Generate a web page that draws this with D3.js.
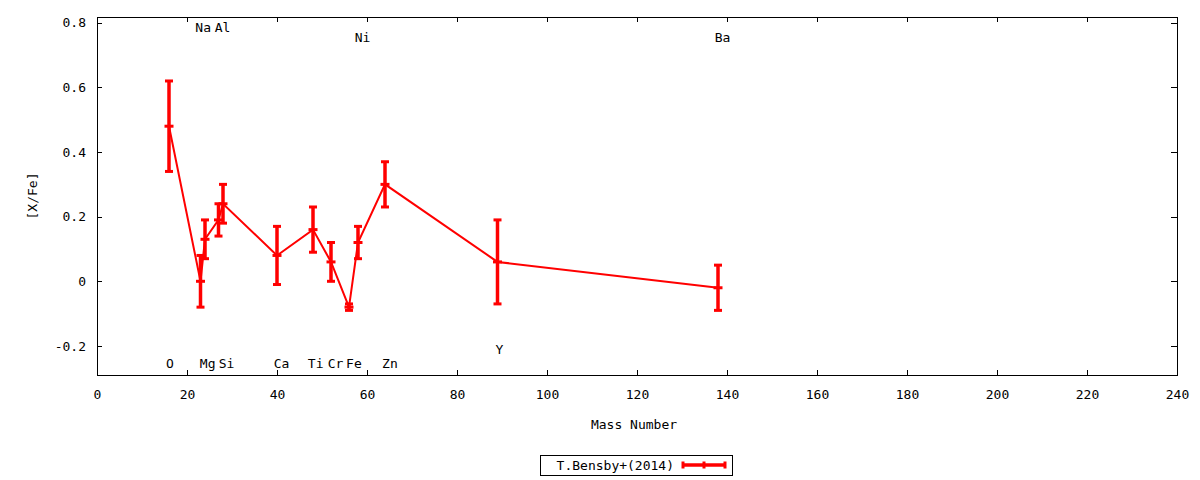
<!DOCTYPE html>
<html>
<head>
<meta charset="utf-8">
<script src="https://cdn.jsdelivr.net/npm/d3@7"></script>
<style>
  body { margin: 0; background: #fff; }
  svg { display: block; }
  text { font-family: "DejaVu Sans Mono", monospace; font-size: 13px; fill: #000; }
</style>
</head>
<body>
<script>
// abundance pattern, one entry per element
const massNumber = [16, 23, 24, 27, 28, 40, 48, 52, 56, 58, 64, 89, 138];
const xFe        = [0.48, 0.00, 0.13, 0.19, 0.24, 0.08, 0.16, 0.06, -0.08, 0.12, 0.30, 0.06, -0.02];
const xFeErr     = [0.14, 0.08, 0.06, 0.05, 0.06, 0.09, 0.07, 0.06, 0.01, 0.05, 0.07, 0.13, 0.07];

// element name labels (x in mass number, y in [X/Fe])
const labelNames = ["O", "Na", "Mg", "Al", "Si", "Ca", "Ti", "Cr", "Fe", "Ni", "Zn", "Y", "Ba"];
const labelX     = [16.2, 23.6, 24.6, 27.9, 28.8, 41.0, 48.6, 53.0, 57.1, 59.0, 65.1, 89.4, 139.0];
const labelY     = [-0.255, 0.785, -0.255, 0.785, -0.255, -0.255, -0.255, -0.255, -0.255, 0.755, -0.255, -0.21, 0.755];

const xTicks = [0, 20, 40, 60, 80, 100, 120, 140, 160, 180, 200, 220, 240];
const yTicks = [-0.2, 0, 0.2, 0.4, 0.6, 0.8];
const seriesName = "T.Bensby+(2014)";

const W = 1200, H = 480;
const pLeft = 97, pRight = 1177, pTop = 17, pBottom = 375;
const red = "#ff0000";

const x = d3.scaleLinear().domain([0, 240]).range([pLeft, pRight]);
const y = d3.scaleLinear().domain([-0.29, 0.818]).range([pBottom, pTop]);

const svg = d3.select("body").append("svg").attr("width", W).attr("height", H);

const fmt = d => Math.abs(d) < 1e-9 ? "0" : d.toFixed(1);

// axes, ticks pointing inwards on all four sides
svg.append("g").attr("transform", `translate(0,${pBottom})`)
  .call(d3.axisBottom(x).tickValues(xTicks).tickSize(-5).tickPadding(15).tickFormat(d3.format("d")));
svg.append("g").attr("transform", `translate(0,${pTop})`)
  .call(d3.axisTop(x).tickValues(xTicks).tickSize(-5).tickFormat(""));
svg.append("g").attr("transform", `translate(${pLeft},0)`)
  .call(d3.axisLeft(y).tickValues(yTicks).tickSize(-5).tickPadding(11).tickFormat(fmt));
svg.append("g").attr("transform", `translate(${pRight},0)`)
  .call(d3.axisRight(y).tickValues(yTicks).tickSize(-6).tickFormat(""));

svg.selectAll(".domain").remove();
svg.selectAll(".tick line").attr("stroke", "#000").attr("shape-rendering", "crispEdges");
svg.selectAll(".tick text").attr("font-family", null).attr("font-size", null);
svg.selectAll("g").attr("font-family", null).attr("font-size", null);

svg.append("rect")
  .attr("x", pLeft + 0.5).attr("y", pTop + 0.5)
  .attr("width", pRight - pLeft).attr("height", pBottom - pTop)
  .attr("fill", "none").attr("stroke", "#000").attr("shape-rendering", "crispEdges");

// axis titles
svg.append("text").attr("x", (pLeft + pRight) / 2 - 3).attr("y", 429)
  .attr("text-anchor", "middle").text("Mass Number");
svg.append("text").attr("transform", `translate(37,${(pTop + pBottom) / 2}) rotate(-90)`)
  .attr("text-anchor", "middle").text("[X/Fe]");

// element labels
svg.append("g").selectAll("text")
  .data(labelNames)
  .join("text")
  .attr("x", (d, i) => x(labelX[i]))
  .attr("y", (d, i) => y(labelY[i]))
  .attr("dy", "0.36em")
  .attr("text-anchor", "middle")
  .text(d => d);

// connecting line
const pts = massNumber.map((m, i) => [m, xFe[i]]);
svg.append("path")
  .datum(pts)
  .attr("fill", "none")
  .attr("stroke", red)
  .attr("stroke-width", 2)
  .attr("d", d3.line().x(d => x(d[0])).y(d => y(d[1])));

// error bars
const eb = svg.append("g").attr("stroke", red).attr("stroke-width", 3.5);
massNumber.forEach((m, i) => {
  const cx = x(m);
  const y0 = y(xFe[i] - xFeErr[i]), y1 = y(xFe[i] + xFeErr[i]), yc = y(xFe[i]);
  eb.append("line").attr("x1", cx).attr("x2", cx).attr("y1", y0).attr("y2", y1);
  eb.append("line").attr("x1", cx - 4).attr("x2", cx + 4).attr("y1", y0).attr("y2", y0).attr("stroke-width", 3);
  eb.append("line").attr("x1", cx - 4).attr("x2", cx + 4).attr("y1", y1).attr("y2", y1).attr("stroke-width", 3);
  eb.append("line").attr("x1", cx - 4.5).attr("x2", cx + 4.5).attr("y1", yc).attr("y2", yc).attr("stroke-width", 3);
});

// legend
const lg = svg.append("g");
lg.append("rect").attr("x", 540.5).attr("y", 455.5).attr("width", 192).attr("height", 20)
  .attr("fill", "#fff").attr("stroke", "#000").attr("shape-rendering", "crispEdges");
lg.append("text").attr("x", 674).attr("y", 465.5).attr("dy", "0.36em")
  .attr("text-anchor", "end").text(seriesName);
lg.append("line").attr("x1", 683).attr("x2", 725).attr("y1", 465).attr("y2", 465)
  .attr("stroke", red).attr("stroke-width", 3.5);
[683, 704, 725].forEach(px => {
  lg.append("line").attr("x1", px).attr("x2", px).attr("y1", 461.5).attr("y2", 468.5)
    .attr("stroke", red).attr("stroke-width", 3);
});
</script>
</body>
</html>
